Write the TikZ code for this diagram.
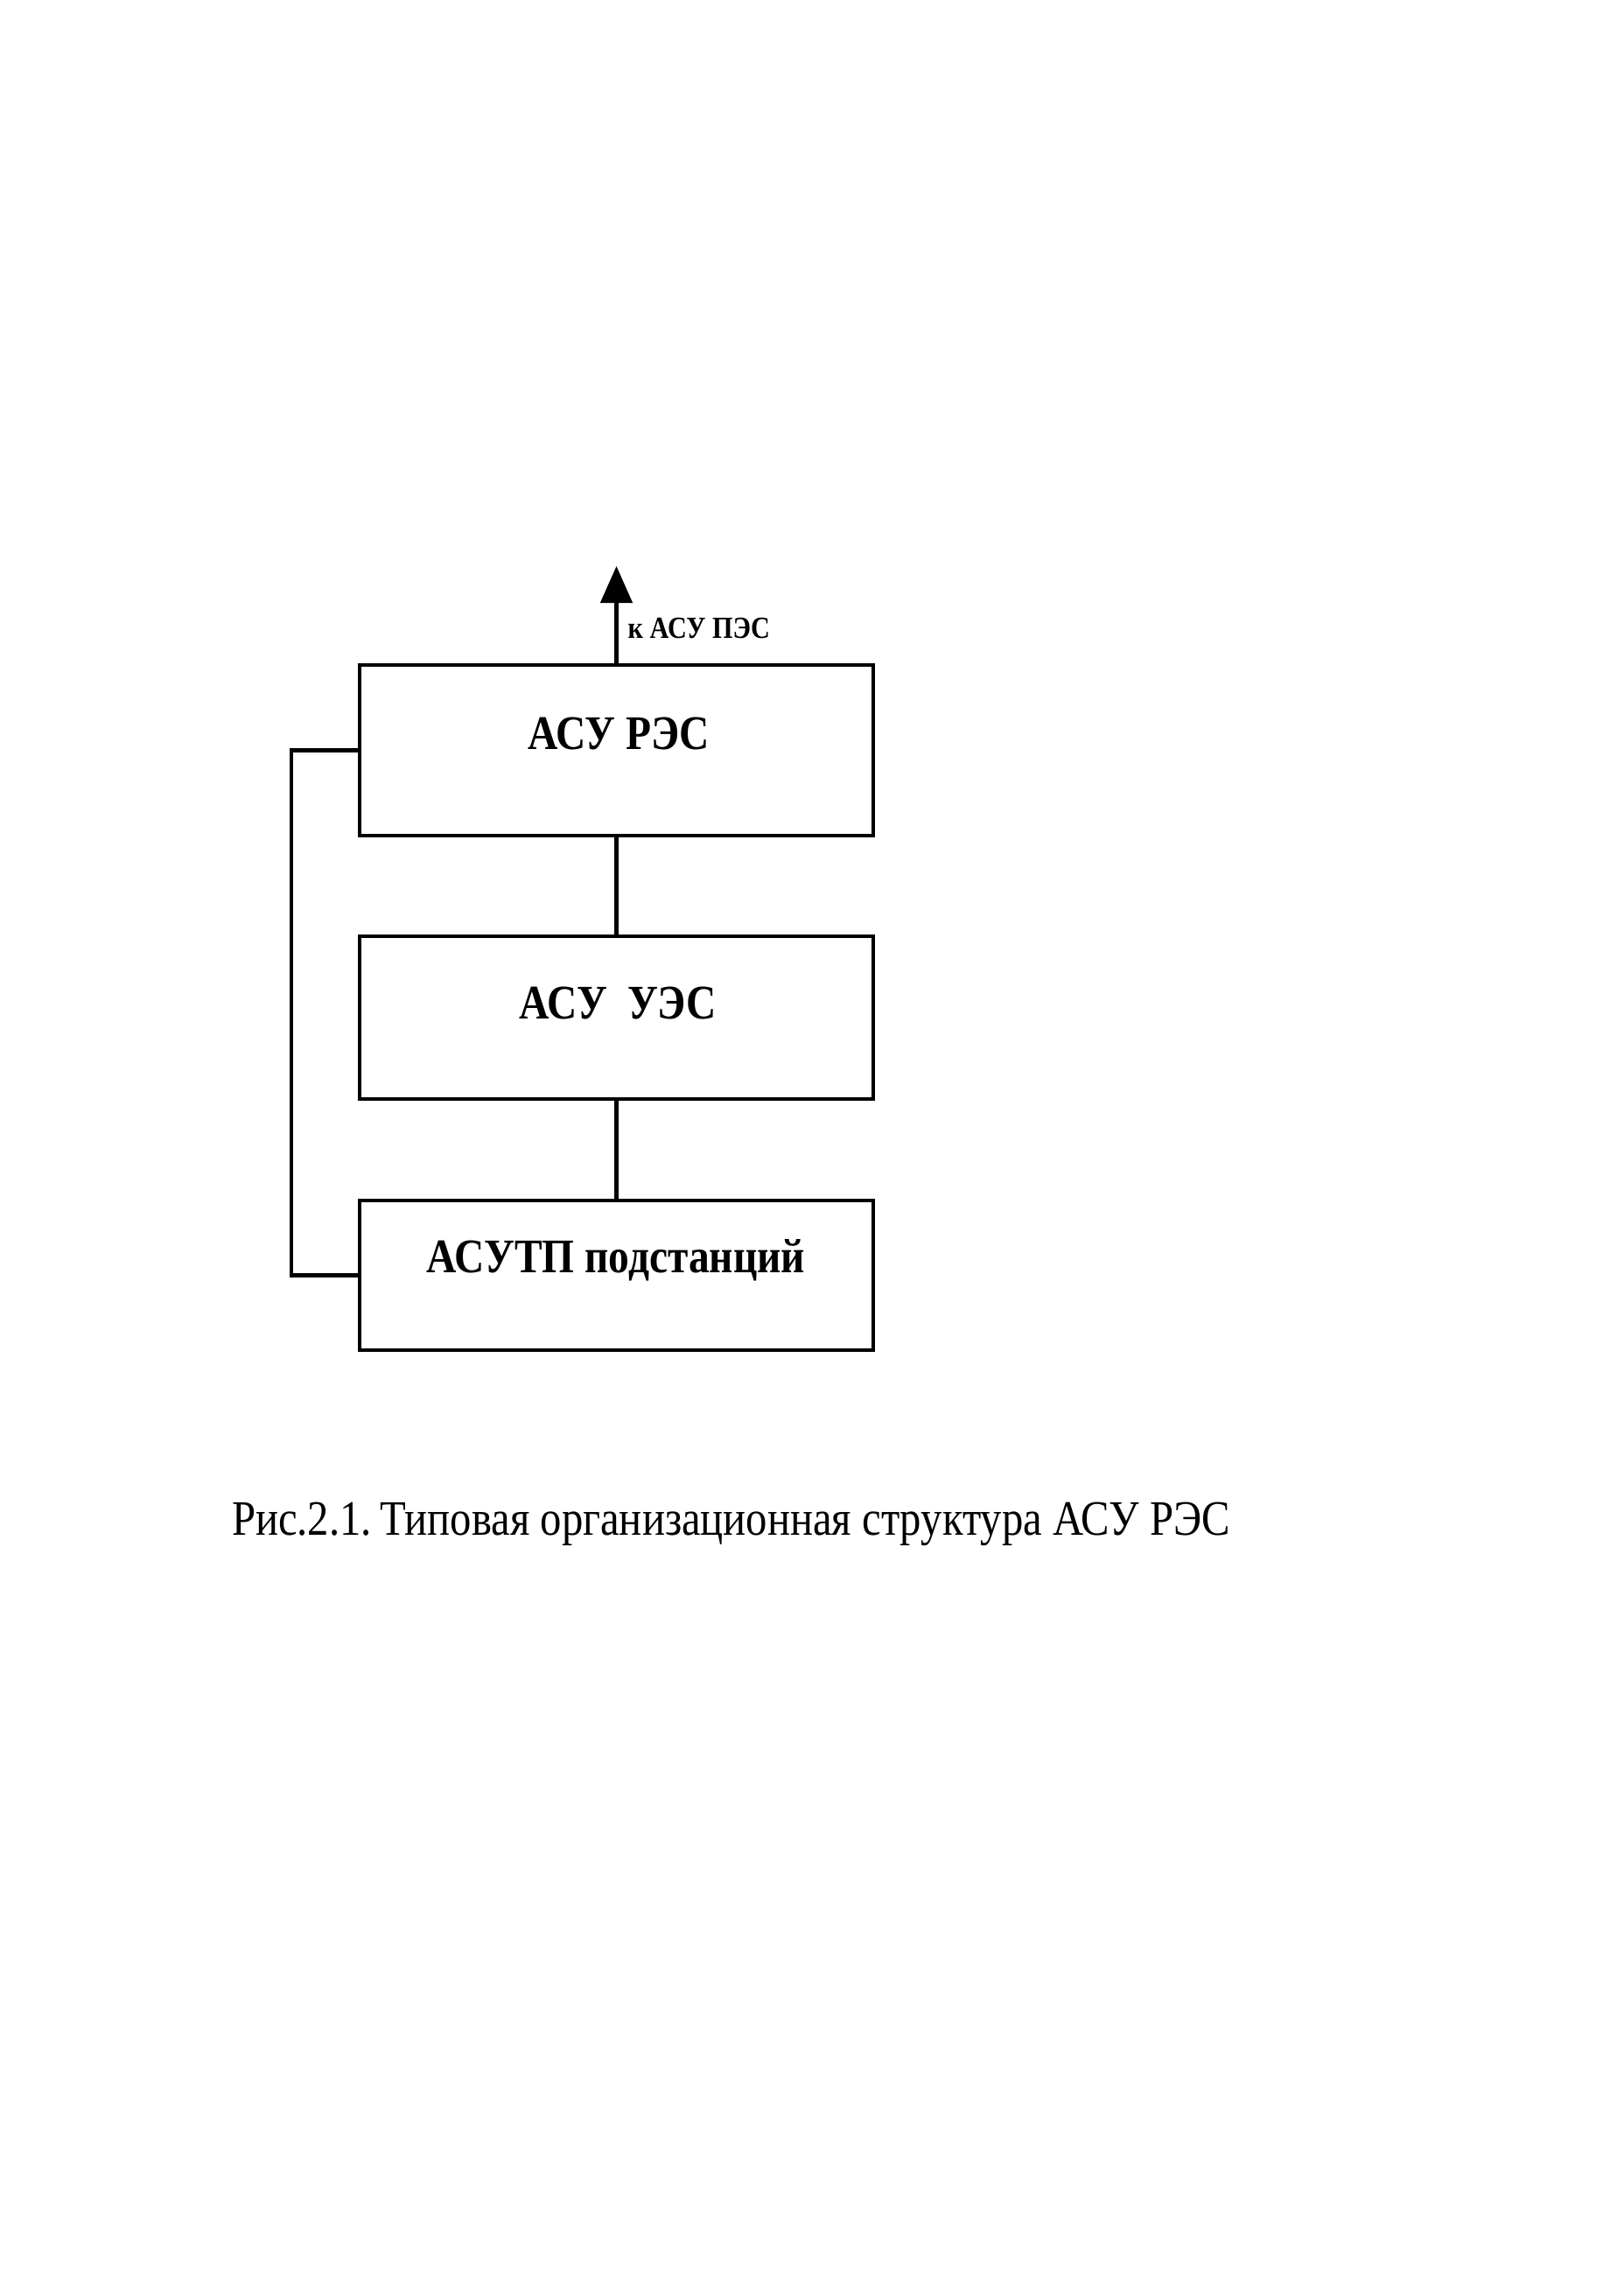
\documentclass[tikz,border=0pt]{standalone}
\usepackage{fontspec}
\setmainfont{Liberation Serif}
\newfontfamily\narrowfont{Liberation Serif}[FakeStretch=0.86]
\usetikzlibrary{arrows.meta}
\begin{document}
\begin{tikzpicture}[
  blk/.style={draw, line width=1.4pt, minimum width=5.87cm, inner sep=0pt},
  conn/.style={line width=1.3pt},
  boxtext/.style={font=\narrowfont\bfseries\fontsize{15.7}{18}\selectfont, inner sep=0pt},
]
\useasboundingbox (0,0) rectangle (18.56,-26);
\fill[white] (0,0) rectangle (18.56,-26);
\node[blk, minimum height=1.95cm] (res) at (7.045,-8.575) {};
\node[blk, minimum height=1.86cm] (ues) at (7.045,-11.63) {};
\node[blk, minimum height=1.71cm] (astp) at (7.045,-14.575) {};
\node[boxtext] (tres) at (7.07,-8.38) {АСУ РЭС};
\node[boxtext] (tues) at (7.06,-11.46) {АСУ\ \ УЭС};
\node[boxtext] (tastp) at (7.04,-14.40) {АСУТП подстанций};
\coordinate (tip) at (7.045,-6.47);
\coordinate (lft) at (3.33,0);
\draw[conn, -{Triangle[length=0.42cm,width=0.36cm]}] (res.north) -- (tip);
\node[anchor=west, inner sep=0pt, font=\narrowfont\bfseries\fontsize{10}{12}\selectfont] (lbl) at (7.17,-7.18) {к АСУ ПЭС};
\draw[conn] (res.south) -- (ues.north);
\draw[conn] (ues.south) -- (astp.north);
\draw[conn] (res.west) -- (res.west -| lft) -- (astp.west -| lft) -- (astp.west);
\node[inner sep=0pt, font=\narrowfont\fontsize{16.1}{19}\selectfont] (cap) at (8.355,-17.42) {Рис.2.1.\,Типовая организационная структура АСУ РЭС};
\end{tikzpicture}
\end{document}
